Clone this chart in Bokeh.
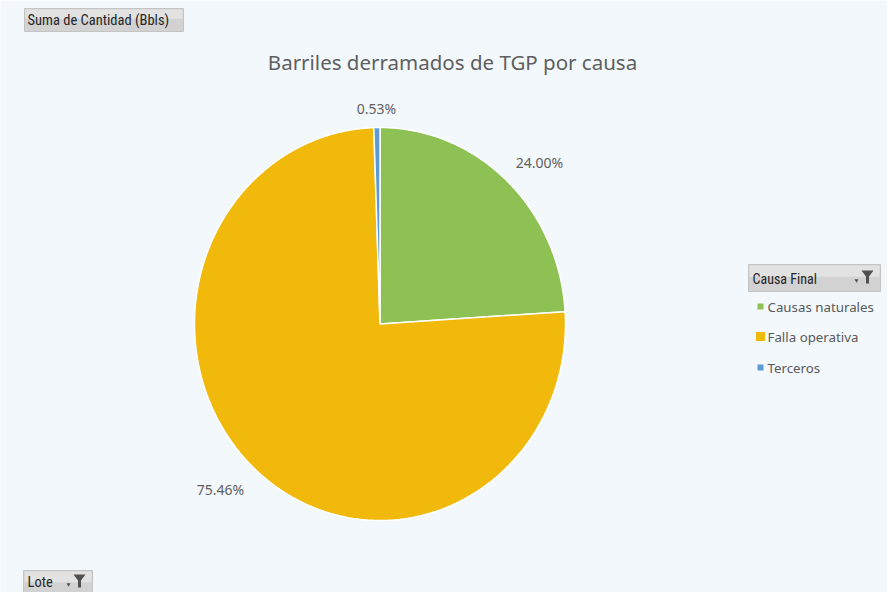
import numpy as np
from bokeh.plotting import figure
from bokeh.models import Range1d, ColumnDataSource
from bokeh.core.properties import value
from bokeh.embed import file_html
from bokeh.resources import INLINE

# ---- data ----
categories = ["Causas naturales", "Falla operativa", "Terceros"]
percentages = [24.00, 75.46, 0.53]
colors = ["#8DC153", "#F0B90B", "#5B9BD5"]
title_text = "Barriles derramados de TGP por causa"
field_button = "Suma de Cantidad (Bbls)"
legend_title = "Causa Final"
filter_button = "Lote"

# ---- layout (image pixel coordinates) ----
BG = "#F3F8FD"
cx, cy, rx, ry = 379.5, 323.5, 185.5, 196.5
label_pos = [(539, 162), (220, 489), (376, 108)]
legend_pos = [(760, 306), (760, 336), (760, 367)]
legend_sizes = [6, 9, 6]

p = figure(width=887, height=592, x_range=Range1d(0, 887), y_range=Range1d(592, 0),
           output_backend="svg", toolbar_location=None, min_border=0,
           x_axis_type=None, y_axis_type=None)
p.grid.visible = False
p.outline_line_color = None
p.background_fill_color = BG
p.border_fill_color = BG

# ---- pie slices (clockwise from 12 o'clock) ----
total = sum(percentages)
xs, ys = [], []
cum = 0.0
for v in percentages:
    t0 = cum / total * 2 * np.pi
    t1 = (cum + v) / total * 2 * np.pi
    th = np.linspace(t0, t1, max(int(v * 4), 4) + 1)
    xs.append([cx] + list(cx + rx * np.sin(th)))
    ys.append([cy] + list(cy - ry * np.cos(th)))
    cum += v
src = ColumnDataSource(dict(xs=xs, ys=ys, color=colors))
p.patches(xs="xs", ys="ys", fill_color="color", line_color="white", line_width=1.5, source=src)

# ---- data labels ----
p.text(x=[q[0] for q in label_pos], y=[q[1] for q in label_pos],
       text=[f"{v:.2f}%" for v in percentages],
       text_align="center", text_baseline="middle", text_font=value("Noto Sans"),
       text_font_size="14px", text_color="#606060")

# ---- title ----
p.text(x=[452], y=[61], text=[title_text], text_align="center", text_baseline="middle",
       text_font=value("Noto Sans"), text_font_size="20.5px", text_color="#5E5E5E")


def button(left, right, top, bottom):
    h = bottom - top
    p.quad(left=[left], right=[right], top=[top], bottom=[bottom],
           fill_color="#D2D2D2", line_color="#C4C4C4", line_width=1)
    p.quad(left=[left + 1], right=[right - 1], top=[top + 1], bottom=[top + h * 0.45],
           fill_color="#E2E2E2", line_color=None)


def funnel(x0, y0):
    p.patch(x=[x0, x0 + 12, x0 + 7.5, x0 + 7.5, x0 + 4.5, x0 + 4.5],
            y=[y0, y0, y0 + 6, y0 + 13, y0 + 13, y0 + 6],
            fill_color="#505050", line_color=None)
    p.scatter(x=[x0 - 5], y=[y0 + 10], marker="inverted_triangle", size=4,
              fill_color="#505050", line_color=None)


# ---- field buttons ----
button(24, 183, 8, 31)
p.text(x=[27], y=[20], text=[field_button], text_align="left", text_baseline="middle",
       text_font=value("Roboto Condensed"), text_font_size="14.5px", text_color="#262626")

button(23, 92, 570, 596)
p.text(x=[27], y=[582], text=[filter_button], text_align="left", text_baseline="middle",
       text_font=value("Roboto Condensed"), text_font_size="14.5px", text_color="#262626")
funnel(73, 574)

# ---- legend ----
button(748, 880, 264, 291)
p.text(x=[752], y=[278], text=[legend_title], text_align="left", text_baseline="middle",
       text_font=value("Roboto Condensed"), text_font_size="14px", text_color="#262626")
funnel(861, 270)

p.scatter(x=[q[0] for q in legend_pos], y=[q[1] for q in legend_pos], marker="square",
          size=legend_sizes, fill_color=colors, line_color=None)
p.text(x=[q[0] + 7 for q in legend_pos], y=[q[1] for q in legend_pos], text=categories,
       text_align="left", text_baseline="middle", text_font=value("Noto Sans"),
       text_font_size="13.3px", text_color="#595959")

open("out.html", "w").write(file_html(p, INLINE))
